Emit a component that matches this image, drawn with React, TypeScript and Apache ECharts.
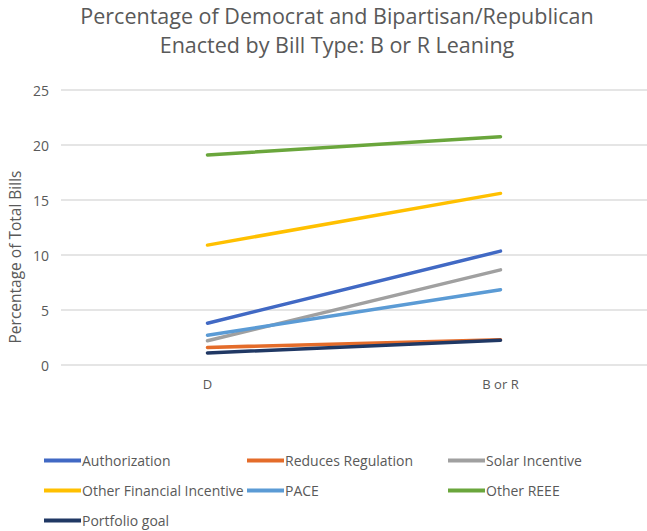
import React, { useEffect, useRef } from "react";
import * as echarts from "echarts";

const categories = ["D", "B or R"];
const seriesNames = [
  "Authorization",
  "Reduces Regulation",
  "Solar Incentive",
  "Other Financial Incentive",
  "PACE",
  "Other REEE",
  "Portfolio goal",
];
const authorization = [3.8, 10.35];
const reducesRegulation = [1.6, 2.3];
const solarIncentive = [2.2, 8.65];
const otherFinancialIncentive = [10.9, 15.6];
const pace = [2.7, 6.85];
const otherREEE = [19.1, 20.75];
const portfolioGoal = [1.1, 2.25];
const yTicks = [0, 5, 10, 15, 20, 25];

const seriesValues = [
  authorization,
  reducesRegulation,
  solarIncentive,
  otherFinancialIncentive,
  pace,
  otherREEE,
  portfolioGoal,
];
const colors = ["#4169C4", "#E46C2A", "#A0A0A0", "#FFC000", "#5B9BD5", "#6AA63C", "#203864"];

const FONT = "'Open Sans', sans-serif";
const TXT = "#595959";

export default function App() {
  const ref = useRef<HTMLDivElement>(null);
  useEffect(() => {
    if (!ref.current) return;
    const chart = echarts.init(ref.current, null, { renderer: "svg" });
    const legendCommon = {
      orient: "vertical" as const,
      icon: "rect",
      itemWidth: 37,
      itemHeight: 4,
      itemGap: 11,
      padding: 0,
      textStyle: { color: TXT, fontFamily: FONT, fontSize: 14, padding: [0, 0, 0, -4], lineHeight: 19 },
      top: 451,
    };
    chart.setOption({
      animation: false,
      color: colors,
      title: {
        text: "Percentage of Democrat and Bipartisan/Republican\nEnacted by Bill Type: B or R Leaning",
        left: 337,
        textAlign: "center",
        top: 1,
        padding: 0,
        textStyle: {
          color: TXT,
          fontFamily: FONT,
          fontSize: 21.5,
          fontWeight: "normal",
          lineHeight: 29,
        },
      },
      grid: { left: 61, width: 592, top: 90, height: 275 },
      legend: [
        { ...legendCommon, left: 44, data: ["Authorization", "Other Financial Incentive", "Portfolio goal"] },
        { ...legendCommon, left: 247, data: ["Reduces Regulation", "PACE"] },
        { ...legendCommon, left: 448, data: ["Solar Incentive", "Other REEE"] },
      ],
      xAxis: {
        type: "category",
        data: categories,
        boundaryGap: true,
        axisLine: { show: false },
        axisTick: { show: false },
        axisLabel: { color: TXT, fontFamily: FONT, fontSize: 13, margin: 12 },
      },
      yAxis: {
        type: "value",
        min: yTicks[0],
        max: yTicks[yTicks.length - 1],
        interval: 5,
        axisLine: { show: false },
        axisTick: { show: false },
        axisLabel: { color: TXT, fontFamily: FONT, fontSize: 14, margin: 12 },
        splitLine: { lineStyle: { color: "#DCDCDC", width: 1.5 } },
      },
      graphic: [
        {
          type: "text",
          x: 15,
          y: 257,
          rotation: Math.PI / 2,
          style: {
            text: "Percentage of Total Bills",
            fill: TXT,
            font: `15.5px ${FONT}`,
            textAlign: "center",
            textVerticalAlign: "middle",
          },
        },
      ],
      series: seriesNames.map((name, i) => ({
        name,
        type: "line",
        data: seriesValues[i],
        symbol: "none",
        lineStyle: { width: 3.5, cap: "round", color: colors[i] },
        itemStyle: { color: colors[i] },
      })),
    });
    return () => chart.dispose();
  }, []);
  return (
    <div
      ref={ref}
      style={{ position: "fixed", left: 0, top: 0, width: 647, height: 531, background: "#fff" }}
    />
  );
}
